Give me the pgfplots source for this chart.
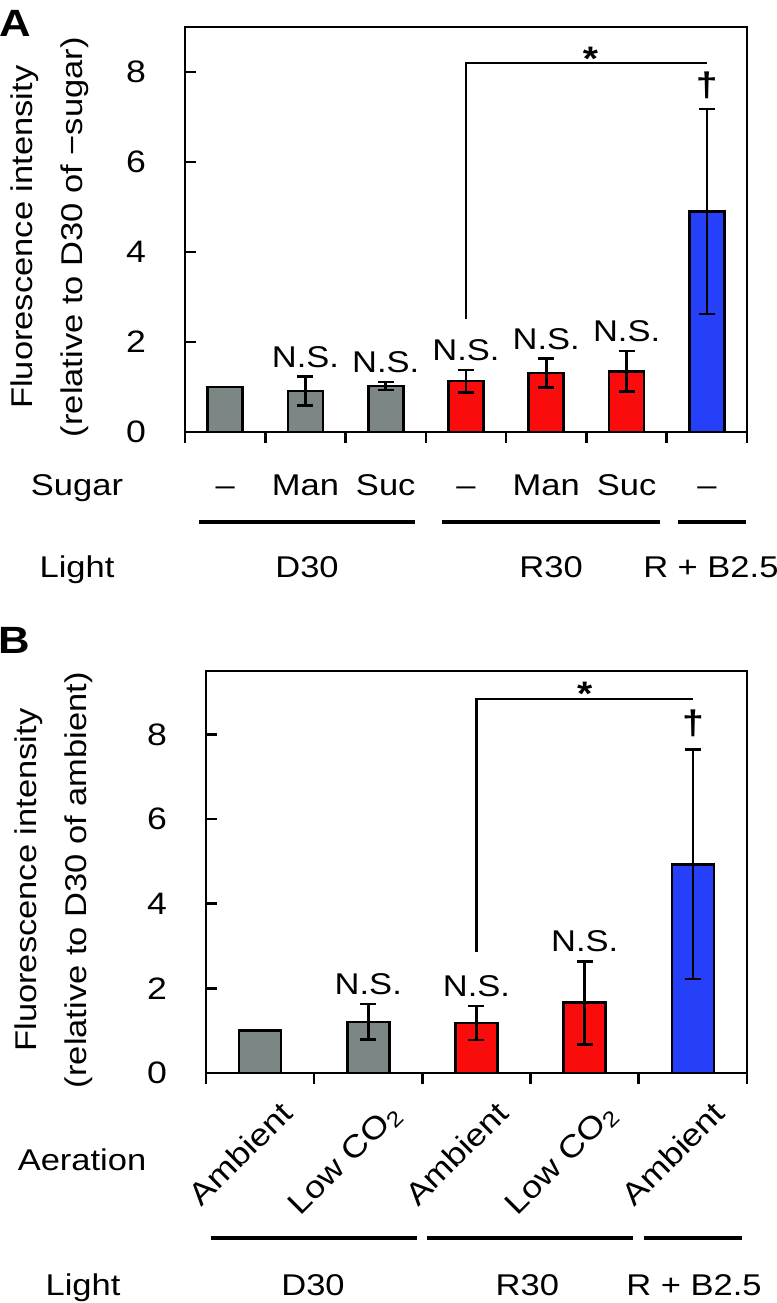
\documentclass[border=0pt]{standalone}
\usepackage{fontspec}
\setmainfont{Liberation Sans}[FakeStretch=1.15]
\newfontfamily\plainfont{Liberation Sans}
\usepackage{graphicx}
\usepackage{pgfplots}
\pgfplotsset{compat=1.18}
\definecolor{bgray}{RGB}{124,134,133}
\definecolor{bred}{RGB}{250,12,12}
\definecolor{bblue}{RGB}{38,64,250}
\newcommand{\fs}{\fontsize{15}{18}\selectfont}
\newcommand{\rl}[1]{\scalebox{1.15}[1]{\plainfont #1}}
\pgfplotsset{
  myaxis/.style={
    scale only axis, clip=false,
    axis line style={line width=1.3pt},
    tick pos=left,
    ytick align=inside, xtick align=outside,
    major tick length=5.5pt,
    tick style={line width=1.3pt, black},
    ytick={0,2,4,6,8},
    xticklabels={},
    ymin=0,
    yticklabel style={xshift=-16pt, font=\fontsize{15.5}{18}\selectfont},
    /pgf/number format/assume math mode=true,
    error bars/error bar style={line width=1.3pt, black},
    error bars/error mark options={rotate=90, line width=1.3pt, black, mark size=4pt},
    ylabel style={align=center, font=\fontsize{15}{25}\selectfont, anchor=center},
  },
  mybar/.style={ybar, bar shift=0pt, draw=black, line width=1.3pt},
}
\tikzset{rotlab/.style={rotate=45, anchor=base east, inner sep=0pt, font=\fontsize{15.5}{18}\selectfont}}
\begin{document}
\begin{tikzpicture}[font=\fs]
\useasboundingbox (0,0) rectangle (388.5pt,-651.5pt);
% ---------------- Panel A ----------------
\begin{axis}[myaxis, at={(92.5pt,-216pt)}, anchor=south west,
  width=281pt, height=202.5pt, xmin=-0.5, xmax=6.5, ymax=9,
  xtick={-0.5,0.5,...,6.5},
  ylabel={Fluorescence intensity\\(relative to D30 of −sugar)},
  ylabel style={at={(axis description cs:-0.24,0.481)}},
]
\addplot[mybar, bar width=17.5pt, fill=bgray] coordinates {(0,1.00)};
\addplot[mybar, bar width=17.5pt, fill=bgray, error bars/.cd, y dir=both, y explicit]
  coordinates {(1,0.91) +- (0,0.32) (2,1.02) +- (0,0.09)};
\addplot[mybar, bar width=17.5pt, fill=bred, error bars/.cd, y dir=both, y explicit]
  coordinates {(3,1.13) +- (0,0.25) (4,1.31) +- (0,0.32) (5,1.35) +- (0,0.45)};
\addplot[mybar, bar width=17.5pt, fill=bblue, error bars/.cd, y dir=both, y explicit]
  coordinates {(6,4.90) +- (0,2.28)};
% significance
\node[anchor=south, yshift=1pt] at (axis cs:1,1.23) {N.S.};
\node[anchor=south, yshift=1pt] at (axis cs:2,1.11) {N.S.};
\node[anchor=south, yshift=1pt] at (axis cs:3,1.38) {N.S.};
\node[anchor=south, yshift=1pt] at (axis cs:4,1.63) {N.S.};
\node[anchor=south, yshift=1pt] at (axis cs:5,1.80) {N.S.};
\node[font=\fontsize{17}{20}\selectfont\bfseries] at (axis cs:6,7.7) {†};
\draw[line width=1.2pt] (axis cs:3,2.51) -- (axis cs:3,8.2) -- (axis cs:6,8.2);
\node[anchor=base, yshift=-3.5pt, font=\fontsize{17}{20}\selectfont\bfseries] at (axis cs:4.55,8.2) {*};
% sugar row
\node[anchor=base] at ([yshift=-31.5pt]axis cs:0,0) {–};
\node[anchor=base] at ([yshift=-31.5pt]axis cs:1,0) {Man};
\node[anchor=base] at ([yshift=-31.5pt]axis cs:2,0) {Suc};
\node[anchor=base] at ([yshift=-31.5pt]axis cs:3,0) {–};
\node[anchor=base] at ([yshift=-31.5pt]axis cs:4,0) {Man};
\node[anchor=base] at ([yshift=-31.5pt]axis cs:5,0) {Suc};
\node[anchor=base] at ([yshift=-31.5pt]axis cs:6,0) {–};
% group lines
\draw[line width=1.7pt] ([yshift=-45pt]axis cs:-0.326,0) -- ([yshift=-45pt]axis cs:2.364,0);
\draw[line width=1.7pt] ([yshift=-45pt]axis cs:2.70,0) -- ([yshift=-45pt]axis cs:5.415,0);
\draw[line width=1.7pt] ([yshift=-45pt]axis cs:5.64,0) -- ([yshift=-45pt]axis cs:6.486,0);
% light row
\node[anchor=base] at ([yshift=-72.5pt]axis cs:1.02,0) {D30};
\node[anchor=base] at ([yshift=-72.5pt]axis cs:4.06,0) {R30};
\node[anchor=base] at ([yshift=-72.5pt]axis cs:6.05,0) {R + B2.5};
\end{axis}
\node[font=\fontsize{19}{22}\selectfont\bfseries] at (7.5pt,-11.5pt) {A};
\node[anchor=base] at (38.5pt,-247.5pt) {Sugar};
\node[anchor=base] at (38.5pt,-288.5pt) {Light};
% ---------------- Panel B ----------------
\begin{axis}[myaxis, at={(103pt,-536.5pt)}, anchor=south west,
  width=270.5pt, height=201pt, xmin=-0.5, xmax=4.5, ymax=9.5,
  xtick={-0.5,0.5,...,4.5},
  ylabel={Fluorescence intensity\\(relative to D30 of ambient)},
  ylabel style={at={(axis description cs:-0.281,0.48)}},
]
\addplot[mybar, bar width=21pt, fill=bgray] coordinates {(0,1.00)};
\addplot[mybar, bar width=21pt, fill=bgray, error bars/.cd, y dir=both, y explicit]
  coordinates {(1,1.21) +- (0,0.42)};
\addplot[mybar, bar width=21pt, fill=bred, error bars/.cd, y dir=both, y explicit]
  coordinates {(2,1.18) +- (0,0.40) (3,1.66) +- (0,0.98)};
\addplot[mybar, bar width=21pt, fill=bblue, error bars/.cd, y dir=both, y explicit]
  coordinates {(4,4.93) +- (0,2.71)};
\node[anchor=south, yshift=1pt] at (axis cs:1,1.63) {N.S.};
\node[anchor=south, yshift=1pt] at (axis cs:2,1.58) {N.S.};
\node[anchor=south, yshift=1pt] at (axis cs:3,2.64) {N.S.};
\node[font=\fontsize{17}{20}\selectfont\bfseries] at (axis cs:4,8.27) {†};
\draw[line width=1.2pt] (axis cs:2,2.87) -- (axis cs:2,8.84) -- (axis cs:4,8.84);
\node[anchor=base, yshift=-3.5pt, font=\fontsize{17}{20}\selectfont\bfseries] at (axis cs:3.0,8.84) {*};
% aeration labels
\node[rotlab] at ([xshift=17.2pt,yshift=-21pt]axis cs:0,0) {\rl{Ambient}};
\node[rotlab] at ([xshift=17.2pt,yshift=-21pt]axis cs:1,0) {\rl{Low CO\textsubscript{2}}};
\node[rotlab] at ([xshift=17.2pt,yshift=-21pt]axis cs:2,0) {\rl{Ambient}};
\node[rotlab] at ([xshift=17.2pt,yshift=-21pt]axis cs:3,0) {\rl{Low CO\textsubscript{2}}};
\node[rotlab] at ([xshift=17.2pt,yshift=-21pt]axis cs:4,0) {\rl{Ambient}};
% group lines
\draw[line width=1.7pt] ([yshift=-82.5pt]axis cs:-0.454,0) -- ([yshift=-82.5pt]axis cs:1.45,0);
\draw[line width=1.7pt] ([yshift=-82.5pt]axis cs:1.543,0) -- ([yshift=-82.5pt]axis cs:3.446,0);
\draw[line width=1.7pt] ([yshift=-82.5pt]axis cs:3.548,0) -- ([yshift=-82.5pt]axis cs:4.454,0);
\node[anchor=base] at ([yshift=-111pt]axis cs:0.489,0) {D30};
\node[anchor=base] at ([yshift=-111pt]axis cs:2.47,0) {R30};
\node[anchor=base] at ([yshift=-111pt]axis cs:4.01,0) {R + B2.5};
\end{axis}
\node[font=\fontsize{19}{22}\selectfont\bfseries] at (7pt,-320pt) {B};
\node[anchor=base] at (41pt,-585pt) {Aeration};
\node[anchor=base] at (41.5pt,-647.5pt) {Light};
\end{tikzpicture}
\end{document}
